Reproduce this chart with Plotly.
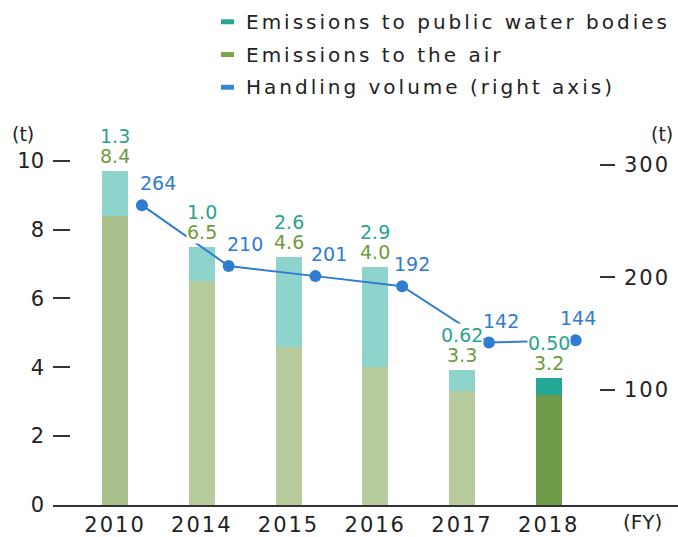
import plotly.graph_objects as go

# Fiscal years and PRTR figures
years = ["2010", "2014", "2015", "2016", "2017", "2018"]
air_t = [8.4, 6.5, 4.6, 4.0, 3.3, 3.2]            # emissions to the air (t)
water_t = [1.3, 1.0, 2.6, 2.9, 0.62, 0.50]        # emissions to public water bodies (t)
handling_t = [264, 210, 201, 192, 142, 144]       # handling volume (t, right axis)
water_text = ["1.3", "1.0", "2.6", "2.9", "0.62", "0.50"]
air_text = ["8.4", "6.5", "4.6", "4.0", "3.3", "3.2"]

FONT = "DejaVu Sans"
TEAL_TXT = "#2aa38f"
GREEN_TXT = "#6f9a3d"
BLUE = "#2f7cd0"
INK = "#222"

# latest year in full colour, earlier years pale
air_colors = ["#a9c08c"] + ["#b8cb9c"] * 4 + ["#6f9a47"]
water_colors = ["#8fd4cc"] * 5 + ["#25a796"]

x = list(range(len(years)))
line_offset = 0.31
x_line = [i + line_offset for i in x]
label_dx = [16, 16, 14, 10, 12, 2]

fig = go.Figure()
fig.add_trace(go.Bar(x=x, y=air_t, width=0.30, marker=dict(color=air_colors, line=dict(width=0)),
                     showlegend=False, hoverinfo="y"))
fig.add_trace(go.Bar(x=x, y=water_t, width=0.30, marker=dict(color=water_colors, line=dict(width=0)),
                     showlegend=False, hoverinfo="y"))
fig.add_trace(go.Scatter(x=x_line, y=handling_t, yaxis="y2", mode="lines+markers",
                         line=dict(color=BLUE, width=2), marker=dict(color=BLUE, size=12),
                         showlegend=False, hoverinfo="y"))

ann = []
for i in x:
    total = air_t[i] + water_t[i]
    # water label first so the air label's white box sits on top of it
    ann.append(dict(x=i, y=total, xref="x", yref="y", text=water_text[i], showarrow=False,
                    yanchor="middle", yshift=35, bgcolor="white", borderpad=0,
                    font=dict(family=FONT, size=19, color=TEAL_TXT)))
    ann.append(dict(x=i, y=total, xref="x", yref="y", text=air_text[i], showarrow=False,
                    yanchor="middle", yshift=15, bgcolor="white", borderpad=0,
                    font=dict(family=FONT, size=19, color=GREEN_TXT)))
    ann.append(dict(x=x_line[i], y=handling_t[i], xref="x", yref="y2", text=str(handling_t[i]),
                    showarrow=False, yanchor="middle", xshift=label_dx[i], yshift=22,
                    font=dict(family=FONT, size=19, color=BLUE)))

# pixel -> paper coordinates
W, H, L, R, T, B = 678, 537, 53, 0, 120, 29
def px(xp):
    return (xp - L) / (W - L - R)
def py(yp):
    return (H - B - yp) / (H - T - B)

def note(xp, yp, text, size=19, xanchor="center", align="center"):
    return dict(x=px(xp), y=py(yp), xref="paper", yref="paper", text=text, showarrow=False,
                xanchor=xanchor, yanchor="middle", align=align,
                font=dict(family=FONT, size=size, color=INK))

ann.append(note(23, 134, "(t)"))
ann.append(note(662, 134, "(t)"))
ann.append(note(642, 525, "(FY)", size=20))

# legend drawn as colour dashes with labels
legend_items = [("Emissions to public water bodies", "#25a796"),
                ("Emissions to the air", "#79a552"),
                ("Handling volume (right axis)", "#3a85d6")]
leg_y = [21, 54, 87]
shapes = []
for (label, col), yy in zip(legend_items, leg_y):
    shapes.append(dict(type="rect", xref="paper", yref="paper", x0=px(221), x1=px(234),
                       y0=py(yy + 2.5), y1=py(yy - 2.5), fillcolor=col, line=dict(width=0)))
    ann.append(note(244, yy, label, size=20, xanchor="left", align="left"))

fig.update_layout(
    width=W, height=H,
    margin=dict(l=L, r=R, t=T, b=B),
    paper_bgcolor="white", plot_bgcolor="white",
    barmode="stack", bargap=0,
    xaxis=dict(range=[-0.715, 6.49], tickvals=x, ticktext=years, showgrid=False, zeroline=False,
               showline=True, linecolor="#333", linewidth=2, ticks="",
               tickfont=dict(family=FONT, size=21, color=INK), fixedrange=True),
    yaxis=dict(range=[0, 11.18], tickvals=[0, 2, 4, 6, 8, 10], showgrid=False, zeroline=False,
               showline=False, ticks="inside", ticklen=17, tickwidth=1.5, tickcolor="#333",
               ticklabelstandoff=8, tickfont=dict(family=FONT, size=21, color=INK)),
    yaxis2=dict(range=[-2.2, 339.6], tickvals=[100, 200, 300], overlaying="y", side="right",
                anchor="free", position=(615 - L) / (W - L - R), showgrid=False, zeroline=False,
                showline=False, ticks="inside", ticklen=15, tickwidth=1.5, tickcolor="#333",
                ticklabelstandoff=8, tickfont=dict(family=FONT, size=21, color=INK)),
    annotations=ann, shapes=shapes,
)

# wider tracking for the legend labels and tick labels
spacing_js = """
var gd = document.getElementById('{plot_id}');
function track() {
  gd.querySelectorAll('.annotation-text').forEach(function (t) {
    if (t.textContent.length > 15) { t.style.letterSpacing = '3px'; }
  });
  gd.querySelectorAll('.xtick text, .y2tick text').forEach(function (t) {
    t.style.letterSpacing = '2px';
  });
}
track();
gd.on('plotly_afterplot', track);
"""
fig.write_html("out.html", post_script=spacing_js)
